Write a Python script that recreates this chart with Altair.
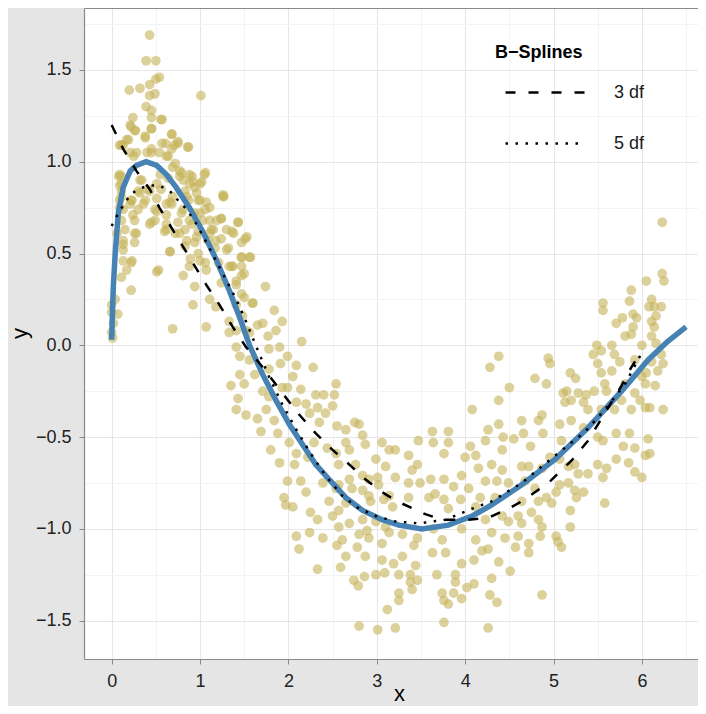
import altair as alt
import pandas as pd

# scatter points, read region by region off the reference
pts_x_a = [
    0.43, 0.39, 0.50, 0.54, 0.50, 0.43, 0.20, 0.32, 0.49, 0.43,
    1.01, 0.39, 0.24, 0.45, 0.56, 0.22, 0.27, 0.45, 0.38, 0.17,
    0.13, 0.68, 0.75, 0.61, 0.71, 0.86, 0.45, 0.40, 0.21, 0.25,
    0.54, 0.64, 0.69, 0.77, 0.88, 1.05, 1.00, 0.88, 0.81, 0.11,
    0.09, 0.32, 0.51, 0.56, 0.43, 0.32, 0.09, 0.21, 0.36, 0.66,
    0.69, 0.96, 1.07, 1.27, 0.85, 0.13, 0.24, 0.51, 0.45, 0.62,
    0.79, 0.88, 1.00, 1.03, 1.24, 1.43, 0.28, 0.13, 0.06, 0.62,
    0.77, 0.85, 0.96, 1.11, 1.18, 1.38, 1.51, 1.30, 1.47, 1.56,
    0.66, 0.13, 0.13, 0.22, 1.00, 0.88, 1.07, 1.33, 1.47, 0.51,
    0.11, 0.81, 0.94, 1.24, 1.41, 0.22, 0.04, 0.07, 1.11, 0.92,
    1.18, 1.60, 1.50, 0.69, 1.07, 1.33, 1.65, 1.52, 1.33, 0.00,
    0.45, 0.09, 0.08, 0.11, 1.26, 1.53, 0.22, 0.62, 0.77, 0.92,
    1.00, 1.11, 1.19, 1.15, 0.00, 0.00, 0.01, 0.02,
]
pts_y_a = [
    1.69, 1.55, 1.55, 1.46, 1.45, 1.42, 1.39, 1.40, 1.37, 1.36,
    1.36, 1.30, 1.24, 1.24, 1.23, 1.19, 1.17, 1.18, 1.13, 1.12,
    1.09, 1.15, 1.11, 1.10, 1.09, 1.08, 1.07, 1.05, 1.05, 1.03,
    1.05, 1.03, 0.97, 0.95, 0.93, 0.93, 0.88, 0.88, 0.90, 0.92,
    0.87, 0.90, 0.88, 0.85, 0.84, 0.83, 0.79, 0.77, 0.77, 0.78,
    0.81, 0.83, 0.78, 0.81, 0.81, 0.74, 0.71, 0.73, 0.67, 0.66,
    0.72, 0.68, 0.72, 0.68, 0.69, 0.67, 0.61, 0.57, 0.61, 0.63,
    0.61, 0.57, 0.59, 0.61, 0.57, 0.61, 0.58, 0.52, 0.48, 0.48,
    0.51, 0.52, 0.46, 0.45, 0.46, 0.43, 0.41, 0.43, 0.38, 0.40,
    0.37, 0.38, 0.32, 0.34, 0.33, 0.30, 0.25, 0.17, 0.25, 0.22,
    0.21, 0.23, 0.26, 0.09, 0.10, 0.13, 0.11, 0.08, 0.07, 0.07,
    1.28, 1.09, 0.92, 0.84, 0.82, 0.59, 0.79, 0.77, 0.92, 0.89,
    0.79, 0.75, 0.68, 0.63, 0.22, 0.18, 0.04, 0.12,
]

# closer reading of the crowded peak region
pts_x_f = [
    0.21, 0.26, 0.45, 0.57, 0.68, 0.75, 0.87, 0.19, 0.11, 0.38,
    0.57, 0.68, 0.45, 0.28, 0.62, 0.72, 0.79, 0.91, 1.06, 1.02,
    0.94, 0.83, 0.09, 0.11, 0.34, 0.55, 0.64, 0.41, 0.30, 0.11,
    0.23, 0.38, 0.51, 0.68, 0.87, 0.98, 1.26, 0.09, 0.30, 0.49,
    0.62, 0.81, 0.94, 1.06, 0.11, 0.26, 0.49, 0.75, 0.91, 1.11,
    1.24, 1.43, 0.15, 0.26, 0.43, 0.60, 0.72, 0.83, 0.98, 1.13,
    1.30, 0.13, 0.26, 0.66, 0.83, 0.94, 1.09, 1.24, 1.36, 1.47,
    1.32, 1.17, 0.98, 0.89, 0.23, 0.53, 1.06, 1.21, 1.36, 1.47,
    1.47, 0.17,
]
pts_y_f = [
    1.20, 1.17, 1.18, 1.23, 1.15, 1.10, 1.08, 1.12, 1.09, 1.14,
    1.10, 1.07, 1.05, 1.05, 1.03, 0.99, 0.94, 0.92, 0.94, 0.89,
    0.86, 0.84, 0.93, 0.88, 0.90, 0.93, 0.91, 0.85, 0.84, 0.81,
    0.79, 0.79, 0.80, 0.77, 0.79, 0.79, 0.81, 0.75, 0.74, 0.74,
    0.71, 0.74, 0.72, 0.74, 0.68, 0.68, 0.68, 0.67, 0.66, 0.68,
    0.69, 0.67, 0.63, 0.61, 0.66, 0.62, 0.61, 0.63, 0.62, 0.63,
    0.63, 0.55, 0.56, 0.51, 0.54, 0.56, 0.57, 0.58, 0.62, 0.56,
    0.53, 0.53, 0.50, 0.47, 0.46, 0.41, 0.45, 0.45, 0.43, 0.48,
    0.43, 0.41,
]

pts_x_b = [
    1.57, 1.37, 1.50, 1.41, 1.74, 1.47, 1.59, 1.41, 1.84, 1.48,
    1.71, 1.93, 1.86, 1.77, 1.41, 1.56, 2.15, 1.90, 1.78, 1.41,
    1.45, 1.99, 1.56, 1.91, 2.09, 2.28, 1.78, 1.45, 1.62, 2.05,
    2.54, 1.35, 1.50, 1.93, 1.99, 2.14, 1.71, 2.31, 2.40, 2.52,
    1.43, 1.78, 2.09, 2.20, 2.50, 2.33, 1.41, 1.75, 2.24, 2.42,
    1.52, 1.65, 1.84, 2.35, 2.55, 2.75, 2.65, 1.69, 1.88, 2.84,
    2.01, 2.29, 2.65, 2.87, 3.06, 1.80, 2.44, 2.69, 2.09, 2.22,
    3.21, 1.90, 2.99, 2.57, 2.76, 2.07, 3.10, 2.84, 3.01, 3.21,
    1.99, 2.14, 2.39, 2.57, 2.72, 2.20, 1.95, 2.91, 3.08, 2.46,
    2.65, 1.97, 2.05, 3.18, 2.25, 2.50, 2.33, 2.84, 2.99, 2.57,
    2.69, 3.10, 2.24, 2.09, 2.39, 2.61, 2.80, 2.91, 3.06, 2.55,
    2.12, 2.80, 2.54, 3.14, 2.69, 2.91, 3.02, 2.54, 2.84, 2.93,
    2.57, 2.89, 2.78,
]
pts_y_b = [
    0.48, 0.43, 0.39, 0.35, 0.32, 0.28, 0.23, 0.22, 0.19, 0.16,
    0.12, 0.13, 0.08, 0.05, 0.08, 0.07, 0.02, -0.01, -0.02, -0.01,
    -0.06, -0.06, -0.08, -0.10, -0.11, -0.12, -0.13, -0.16, -0.16, -0.17,
    -0.21, -0.22, -0.21, -0.23, -0.23, -0.24, -0.25, -0.27, -0.27, -0.27,
    -0.29, -0.28, -0.31, -0.32, -0.33, -0.34, -0.35, -0.35, -0.37, -0.37,
    -0.38, -0.40, -0.41, -0.42, -0.44, -0.42, -0.46, -0.47, -0.48, -0.49,
    -0.53, -0.53, -0.53, -0.54, -0.53, -0.57, -0.56, -0.57, -0.59, -0.61,
    -0.57, -0.64, -0.62, -0.65, -0.65, -0.65, -0.66, -0.71, -0.72, -0.72,
    -0.74, -0.74, -0.75, -0.76, -0.78, -0.80, -0.83, -0.82, -0.84, -0.85,
    -0.86, -0.87, -0.88, -0.88, -0.91, -0.93, -0.95, -0.95, -0.96, -0.99,
    -0.97, -0.99, -1.02, -1.04, -1.05, -1.06, -1.03, -1.05, -1.08, -1.09,
    -1.11, -0.43, -0.59, -0.57, -0.73, -0.73, -0.76, -0.78, -0.79, -0.85,
    -0.90, -1.01, -1.10,
]

pts_x_c = [
    4.08, 4.38, 3.63, 3.81, 3.47, 3.64, 3.81, 4.26, 4.38, 4.43,
    4.23, 4.06, 3.76, 4.42, 4.00, 4.12, 3.36, 3.46, 4.30, 4.15,
    4.42, 3.40, 3.96, 3.76, 3.61, 4.23, 4.36, 3.36, 3.49, 3.87,
    4.04, 3.66, 3.36, 3.59, 3.76, 3.95, 4.17, 4.34, 4.12, 3.81,
    4.42, 4.23, 3.29, 3.64, 3.96, 4.30, 3.46, 3.74, 4.12, 3.42,
    3.63, 3.78, 4.19, 2.65, 2.87, 3.29, 4.10, 3.06, 4.38, 2.59,
    3.19, 3.44, 3.96, 2.99, 3.25, 3.38, 3.68, 3.89, 2.74, 2.86,
    4.30, 3.46, 3.89, 4.10, 4.02, 3.40, 3.74, 3.25, 3.87, 4.28,
    3.96, 3.25, 3.76, 4.36, 3.81, 3.12, 3.76, 2.80, 3.01, 3.21,
    4.26, 3.14, 3.14, 2.33, 2.79, 3.09, 3.38,
]
pts_y_c = [
    -0.35, -0.30, -0.47, -0.47, -0.52, -0.53, -0.53, -0.46, -0.43, -0.50,
    -0.52, -0.55, -0.59, -0.57, -0.61, -0.60, -0.60, -0.65, -0.65, -0.67,
    -0.68, -0.68, -0.71, -0.73, -0.73, -0.74, -0.74, -0.75, -0.75, -0.77,
    -0.78, -0.81, -0.83, -0.83, -0.84, -0.84, -0.83, -0.83, -0.88, -0.89,
    -0.93, -0.95, -1.03, -1.00, -1.00, -1.02, -1.05, -1.06, -1.06, -1.09,
    -1.13, -1.13, -1.12, -1.15, -1.15, -1.15, -1.17, -1.17, -1.18, -1.21,
    -1.19, -1.20, -1.19, -1.25, -1.25, -1.25, -1.25, -1.25, -1.28, -1.26,
    -1.27, -1.28, -1.29, -1.30, -1.32, -1.33, -1.35, -1.35, -1.35, -1.36,
    -1.38, -1.39, -1.39, -1.40, -1.41, -1.44, -1.51, -1.53, -1.55, -1.54,
    -1.54, -0.82, -1.02, -1.22, -1.31, -1.24, -1.29,
]

pts_x_d = [
    4.38, 4.28, 4.94, 4.96, 4.79, 4.92, 4.50, 5.19, 5.25, 5.11,
    5.15, 5.28, 5.37, 5.13, 5.20, 5.34, 5.49, 5.54, 5.66, 5.45,
    5.69, 5.50, 5.75, 5.81, 5.88, 6.00, 6.11, 6.16, 6.22, 6.24,
    6.18, 6.11, 6.05, 5.92, 5.66, 5.54, 5.58, 5.46, 5.60, 5.81,
    5.92, 6.00, 6.04, 6.15, 5.98, 5.77, 5.88, 6.04, 6.09, 6.24,
    5.69, 5.54, 5.39, 5.20, 5.07, 4.87, 4.83, 4.64, 4.55, 4.66,
    4.88, 4.74, 5.09, 5.34, 5.50, 5.56, 5.71, 5.86, 6.07, 5.79,
    5.71, 5.92, 6.04, 6.09, 5.85, 5.92, 6.00, 5.60, 5.50, 5.39,
    5.56, 5.24, 5.17, 5.28, 5.07, 4.96, 4.87, 4.72, 4.64, 4.49,
    4.68, 4.79, 5.07, 5.17, 5.24, 5.34, 5.03, 5.26, 4.92, 4.98,
    4.83, 4.64, 5.58, 5.19, 4.75, 4.83, 4.60, 4.49, 4.64, 4.87,
    5.19, 4.85, 5.03, 4.45, 4.60, 5.05, 5.09, 4.72, 4.57, 4.72,
    4.26, 4.51, 4.87,
]
pts_y_d = [
    -0.06, -0.12, -0.07, -0.10, -0.18, -0.21, -0.23, -0.15, -0.18, -0.26,
    -0.25, -0.26, -0.27, -0.31, -0.30, -0.31, 0.00, -0.03, 0.00, -0.05,
    -0.05, -0.10, -0.09, 0.05, 0.06, 0.00, 0.05, 0.01, -0.05, -0.10,
    -0.14, -0.09, -0.15, -0.08, -0.14, -0.15, -0.21, -0.25, -0.25, -0.21,
    -0.26, -0.17, -0.21, -0.22, -0.30, -0.30, -0.35, -0.34, -0.34, -0.35,
    -0.35, -0.35, -0.35, -0.41, -0.43, -0.38, -0.41, -0.41, -0.51, -0.48,
    -0.48, -0.55, -0.52, -0.45, -0.50, -0.52, -0.48, -0.48, -0.51, -0.55,
    -0.62, -0.56, -0.60, -0.59, -0.64, -0.69, -0.72, -0.67, -0.65, -0.70,
    -0.72, -0.65, -0.66, -0.70, -0.62, -0.61, -0.67, -0.66, -0.66, -0.75,
    -0.74, -0.78, -0.76, -0.75, -0.79, -0.80, -0.80, -0.83, -0.83, -0.86,
    -0.85, -0.85, -0.86, -0.90, -0.91, -0.95, -0.93, -0.96, -0.97, -0.99,
    -0.99, -1.04, -1.04, -1.05, -1.04, -1.07, -1.10, -1.08, -1.10, -1.13,
    -1.11, -1.23, -1.36,
]

pts_x_e = [
    6.23, 6.23, 6.25, 6.05, 5.88, 5.86, 6.11, 5.56, 5.56, 6.08,
    6.22, 6.14, 5.90, 5.94, 6.16, 5.78, 5.71, 6.11, 5.90, 6.14,
]
pts_y_e = [
    0.67, 0.39, 0.35, 0.35, 0.30, 0.24, 0.25, 0.23, 0.19, 0.21,
    0.21, 0.21, 0.17, 0.15, 0.16, 0.15, 0.12, 0.13, 0.10, 0.10,
]

# thick blue curve
true_x = [0.0, 0.01, 0.02, 0.04, 0.075, 0.13, 0.21, 0.28, 0.39, 0.51,
          0.62, 0.73, 0.88, 1.03, 1.18, 1.33, 1.45, 1.56, 1.71, 1.86,
          2.01, 2.16, 2.31, 2.46, 2.65, 2.84, 3.06, 3.25, 3.51, 3.81,
          4.08, 4.30, 4.64, 5.02, 5.39, 5.77, 6.07, 6.29, 6.5]
true_y = [0.03, 0.20, 0.33, 0.50, 0.72, 0.86, 0.95, 0.98, 1.00, 0.98,
          0.93, 0.86, 0.75, 0.62, 0.47, 0.30, 0.15, 0.00, -0.16, -0.30,
          -0.43, -0.54, -0.65, -0.73, -0.83, -0.90, -0.95, -0.98, -1.00, -0.98,
          -0.93, -0.87, -0.76, -0.62, -0.45, -0.25, -0.08, 0.02, 0.10]

# B-spline fits
df3_x = [0.0, 0.13, 0.28, 0.43, 0.54, 0.69, 0.88, 1.07, 1.22, 1.37,
         1.52, 1.71, 1.90, 2.09, 2.31, 2.50, 2.69, 2.87, 3.06, 3.23,
         3.55, 3.74, 4.04, 4.26, 4.49, 4.64, 4.94, 5.20, 5.39, 5.58,
         5.77, 5.88, 6.0]
df3_y = [1.20, 1.07, 0.95, 0.85, 0.75, 0.63, 0.48, 0.33, 0.22, 0.10,
         -0.01, -0.12, -0.24, -0.36, -0.48, -0.57, -0.65, -0.73, -0.80, -0.85,
         -0.92, -0.95, -0.95, -0.94, -0.89, -0.85, -0.75, -0.63, -0.52, -0.37,
         -0.22, -0.12, -0.03]
df5_x = [0.0, 0.075, 0.21, 0.30, 0.41, 0.54, 0.66, 0.75, 0.85, 0.96,
         1.05, 1.16, 1.28, 1.41, 1.52, 1.63, 1.78, 1.93, 2.09, 2.24,
         2.42, 2.61, 2.80, 2.99, 3.21, 3.48, 3.78, 4.08, 4.30, 4.64,
         5.02, 5.36, 5.60, 5.81, 6.0]
df5_y = [0.65, 0.72, 0.82, 0.85, 0.87, 0.87, 0.84, 0.79, 0.74, 0.66,
         0.58, 0.48, 0.37, 0.25, 0.13, 0.00, -0.17, -0.32, -0.46, -0.58,
         -0.71, -0.82, -0.89, -0.93, -0.96, -0.97, -0.95, -0.89, -0.85, -0.75,
         -0.60, -0.47, -0.34, -0.21, -0.04]

fit_names = ["3 df", "5 df"]

x_major = [0, 1, 2, 3, 4, 5, 6]
x_minor = [0.5, 1.5, 2.5, 3.5, 4.5, 5.5, 6.5]
y_major = [-1.5, -1.0, -0.5, 0.0, 0.5, 1.0, 1.5]
y_minor = [-1.25, -0.75, -0.25, 0.25, 0.75, 1.25, 1.75]

points = pd.DataFrame({
    "x": pts_x_a + pts_x_f + pts_x_b + pts_x_c + pts_x_d + pts_x_e,
    "y": pts_y_a + pts_y_f + pts_y_b + pts_y_c + pts_y_d + pts_y_e,
})
truth = pd.DataFrame({"x": true_x, "y": true_y})
fits = pd.concat([
    pd.DataFrame({"x": df3_x, "y": df3_y, "fit": fit_names[0]}),
    pd.DataFrame({"x": df5_x, "y": df5_y, "fit": fit_names[1]}),
])

font = "Liberation Sans"
border = "#8a8a8a"
x_scale = alt.Scale(domain=[-0.313, 6.635], nice=False, zero=False)
y_scale = alt.Scale(domain=[-1.709, 1.8375], nice=False, zero=False)

scatter = alt.Chart(points).mark_circle(size=95, color="#C5B358", opacity=0.6).encode(
    x=alt.X("x:Q", scale=x_scale, axis=alt.Axis(
        orient="bottom", values=x_major, format="d",
        grid=True, gridColor="#e6e6e6", gridWidth=1.1,
        domainColor=border, domainWidth=1.2,
        tickColor=border, tickSize=5, tickWidth=1,
        labelPadding=8, labelFont=font, labelFontSize=18, labelColor="#222222",
        title="x", titleFont=font, titleFontSize=22, titleFontWeight="normal",
        titleColor="black", titleBaseline="alphabetic", titleX=315, titleY=41,
    )),
    y=alt.Y("y:Q", scale=y_scale, axis=alt.Axis(
        orient="left", values=y_major, format=".1f",
        grid=True, gridColor="#e6e6e6", gridWidth=1.1,
        domainColor=border, domainWidth=1.2,
        tickColor=border, tickSize=5, tickWidth=1,
        labelPadding=8, labelFont=font, labelFontSize=18, labelColor="#222222",
        title="y", titleFont=font, titleFontSize=22, titleFontWeight="normal",
        titleColor="black", titleAngle=270, titleAlign="center",
        titleBaseline="alphabetic", titleX=-58, titleY=325,
    )),
)

# the truth curve also carries the minor grid and the top border
truth_line = alt.Chart(truth).mark_line(color="#4682B4", strokeWidth=5.5, strokeCap="butt").encode(
    x=alt.X("x:Q", scale=x_scale, axis=alt.Axis(
        orient="top", values=x_minor, grid=True, gridColor="#f3f3f3", gridWidth=1,
        labels=False, ticks=False, domainColor=border, domainWidth=1.2, title=None,
    )),
    y=alt.Y("y:Q", scale=y_scale, axis=alt.Axis(
        orient="right", values=y_minor, grid=True, gridColor="#f3f3f3", gridWidth=1,
        labels=False, ticks=False, domain=False, title=None,
    )),
)

fit_lines = alt.Chart(fits).mark_line(color="black", strokeWidth=2.5, strokeCap="butt").encode(
    x=alt.X("x:Q", scale=x_scale, axis=None),
    y=alt.Y("y:Q", scale=y_scale, axis=None),
    strokeDash=alt.StrokeDash(
        "fit:N",
        scale=alt.Scale(domain=fit_names, range=[[10, 13], [2.5, 7.5]]),
        legend=alt.Legend(
            title="B−Splines", orient="none", legendX=411, legendY=36,
            titleFont=font, titleFontSize=18, titleFontWeight="bold", titleColor="black",
            titlePadding=-11, titleAnchor="start",
            labelFont=font, labelFontSize=18, labelColor="#1a1a1a", labelOffset=27,
            symbolType="stroke", symbolSize=6400, symbolStrokeWidth=2.5,
            symbolStrokeColor="black", symbolOffset=9, rowPadding=-7, padding=0,
        ),
    ),
)

chart = alt.layer(scatter, truth_line, fit_lines).resolve_axis(
    x="independent", y="independent"
).properties(
    width=614, height=651, background="#e5e5e5",
    padding={"left": 76, "top": 0, "right": 0, "bottom": 47},
    autosize=alt.AutoSizeParams(type="none"),
).configure_view(stroke="transparent", fill="white")

chart.save("out.html", embed_options={"renderer": "svg", "actions": False})
